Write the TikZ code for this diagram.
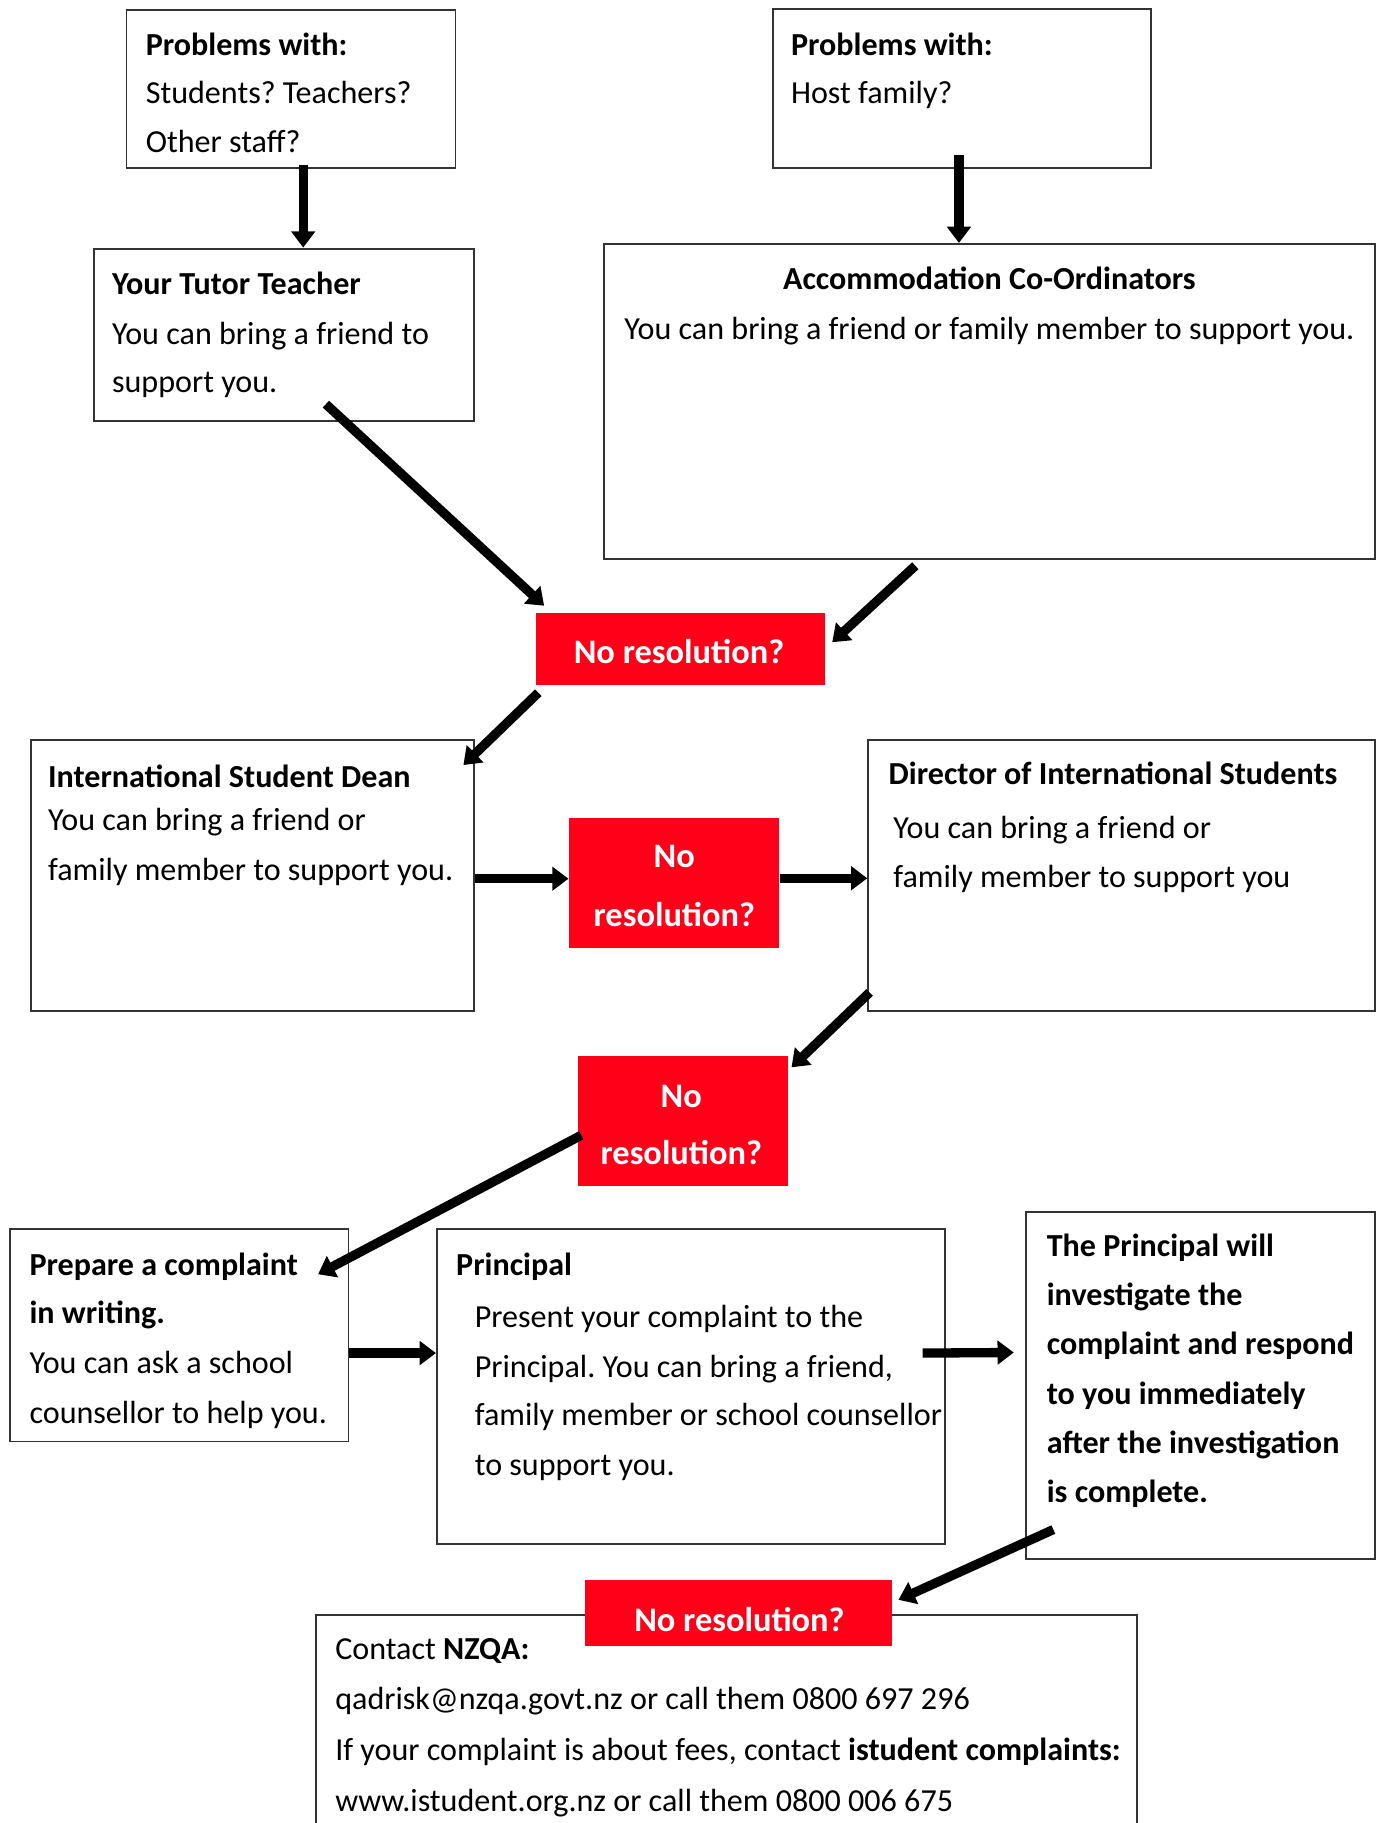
\documentclass[tikz,border=0pt]{standalone}
\usepackage{fontspec}
\setmainfont{Carlito}
\frenchspacing
\usetikzlibrary{arrows.meta}
\definecolor{nred}{RGB}{255,0,24}
\tikzset{
  box/.style={draw=black!80, line width=0.8pt, rectangle, anchor=north west, inner sep=0pt},
  redbox/.style={fill=nred, rectangle, anchor=north west, inner sep=0pt},
  tl/.style={anchor=base west, inner sep=0pt, font=\fontsize{13.8}{16}\selectfont},
  tb/.style={anchor=base west, inner sep=0pt, font=\fontsize{13.8}{16}\selectfont\bfseries},
  tc/.style={anchor=base, inner sep=0pt, font=\fontsize{13.8}{16}\selectfont},
  tcb/.style={anchor=base, inner sep=0pt, font=\fontsize{13.8}{16}\selectfont\bfseries},
  rt/.style={anchor=base, inner sep=0pt, text=white, font=\fontsize{14.8}{17}\selectfont\bfseries},
  arr/.style={line width=4pt, -{Triangle[length=7pt,width=10pt]}},
}
\begin{document}
\begin{tikzpicture}[x=0.5pt,y=-0.5pt]
\useasboundingbox (0,0) rectangle (1189,1568);
% boxes
\node[box, minimum width=141.5pt, minimum height=68pt] (A) at (108,8) {};
\node[box, minimum width=162.5pt, minimum height=68.5pt] (B) at (664,7) {};
\node[box, minimum width=163.5pt, minimum height=74pt] (C) at (80,213) {};
\node[box, minimum width=331.5pt, minimum height=135.5pt] (D) at (519,209) {};
\node[redbox, minimum width=124pt, minimum height=31pt] (R1) at (461,527) {};
\node[box, minimum width=190.5pt, minimum height=116.5pt] (E) at (26,636) {};
\node[redbox, minimum width=90.5pt, minimum height=56pt] (R2) at (489,703) {};
\node[box, minimum width=218pt, minimum height=116.5pt] (F) at (746,636) {};
\node[redbox, minimum width=90pt, minimum height=56pt] (R3) at (497,908) {};
\node[box, minimum width=145.5pt, minimum height=91.5pt] (G) at (8,1056) {};
\node[box, minimum width=218.5pt, minimum height=135.5pt] (H) at (375,1056) {};
\node[box, minimum width=150pt, minimum height=149pt] (I) at (882,1042) {};
\node[box, minimum width=353pt, minimum height=110pt] (J) at (271,1388) {};
\node[redbox, minimum width=132pt, minimum height=28pt] (R4) at (503,1359) {};
% texts
\node[tb] (a1) at (125,48) {Problems with:};
\node[tl] (a2) at (125,89) {Students? Teachers?};
\node[tl] (a3) at (125,131) {Other staff?};
\node[tb] (b1) at (680,48) {Problems with:};
\node[tl] (b2) at (680,89) {Host family?};
\node[tb] (c1) at (96,253) {Your Tutor Teacher};
\node[tl] (c2) at (96,296) {You can bring a friend to};
\node[tl] (c3) at (96,338) {support you.};
\node[tcb] (d1) at (851,249) {Accommodation Co-Ordinators};
\node[tc] (d2) at (851,292) {You can bring a friend or family member to support you.};
\node[tb] (e1) at (41,677) {International Student Dean};
\node[tl] (e2) at (41,714) {You can bring a friend or};
\node[tl] (e3) at (41,757) {family member to support you.};
\node[tb] (f1) at (764,675) {Director of International Students};
\node[tl] (f2) at (768,721) {You can bring a friend or};
\node[tl] (f3) at (768,763) {family member to support you};
\node[tb] (g1) at (25,1097) {Prepare a complaint};
\node[tb] (g2) at (25,1138) {in writing.};
\node[tl] (g3) at (25,1181) {You can ask a school};
\node[tl] (g4) at (25,1224) {counsellor to help you.};
\node[tb] (h1) at (392,1097) {Principal};
\node[tl] (h2) at (408,1142) {Present your complaint to the};
\node[tl] (h3) at (408,1185) {Principal. You can bring a friend,};
\node[tl] (h4) at (408,1226) {family member or school counsellor};
\node[tl] (h5) at (408,1269) {to support you.};
\node[tb] (i1) at (900,1081) {The Principal will};
\node[tb] (i2) at (900,1123) {investigate the};
\node[tb] (i3) at (900,1165) {complaint and respond};
\node[tb] (i4) at (900,1208) {to you immediately};
\node[tb] (i5) at (900,1250) {after the investigation};
\node[tb] (i6) at (900,1292) {is complete.};
\node[tl] (j1) at (288,1427) {Contact \textbf{NZQA:}};
\node[tl] (j2) at (288,1470) {qadrisk@nzqa.govt.nz or call them 0800 697 296};
\node[tl] (j3) at (288,1514) {If your complaint is about fees, contact \textbf{istudent complaints:}};
\node[tl] (j4) at (288,1558) {www.istudent.org.nz or call them 0800 006 675};
\node[rt] (r1) at (584,571) {No resolution?};
\node[rt] (r2a) at (580,746) {No};
\node[rt] (r2b) at (580,797) {resolution?};
\node[rt] (r3a) at (586,953) {No};
\node[rt] (r3b) at (586,1002) {resolution?};
\node[rt] (r4) at (636,1403) {No resolution?};
% connectors
\draw[arr] ([xshift=5.25pt,yshift=2pt]A.south) -- ([xshift=5.25pt]A.south |- C.north);
\draw[arr] ([xshift=-1.25pt,yshift=6pt]B.south) -- ([xshift=-1.25pt]B.south |- D.north);
\draw[arr] ([xshift=18pt,yshift=7.5pt]C.south) -- ([xshift=3.5pt,yshift=3pt]R1.north west);
\draw[arr] ([xshift=-32pt,yshift=-2.5pt]D.south) -- ([xshift=3pt,yshift=3pt]R1.east);
\draw[arr] ([xshift=1pt,yshift=-3pt]R1.south west) -- ([xshift=-5pt,yshift=-11pt]E.north east);
\draw[arr] ([yshift=-1.25pt]E.east) -- ([yshift=-1.25pt]E.east -| R2.west);
\draw[arr] ([yshift=2pt]R2.east) -- ([yshift=2pt]R2.east -| F.west);
\draw[arr] ([xshift=1pt,yshift=8.5pt]F.south west) -- ([xshift=1.5pt,yshift=-5pt]R3.north east);
\draw[arr] ([xshift=1.5pt,yshift=-6pt]R3.west) -- ([xshift=-13.5pt,yshift=-20pt]G.north east);
\draw[arr] ([yshift=-7.75pt]G.east) -- ([yshift=-7.75pt]G.east -| H.west);
\draw[arr] ([xshift=-10pt,yshift=14.25pt]H.east) -- ([xshift=-5pt,yshift=14.25pt]I.west);
\draw[arr] ([xshift=12pt,yshift=13pt]I.south west) -- ([xshift=2.5pt,yshift=-8.5pt]R4.north east);
\end{tikzpicture}
\end{document}
